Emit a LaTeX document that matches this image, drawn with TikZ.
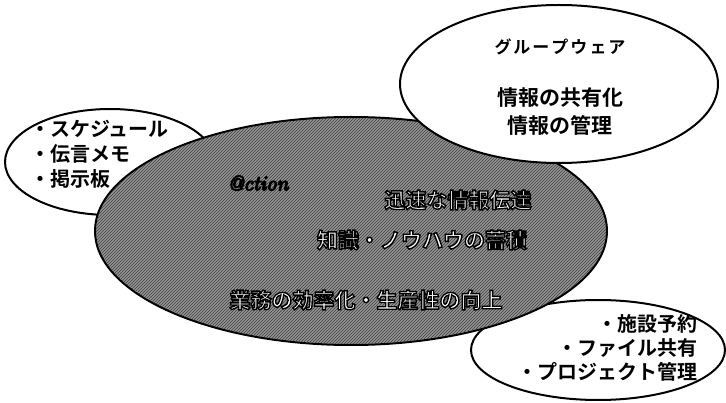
\documentclass[tikz,border=0pt]{standalone}
\usepackage{fontspec}
\newfontfamily\jp{Noto Sans CJK JP}[BoldFont={Noto Sans CJK JP Bold}]
\usetikzlibrary{patterns}
\tikzset{
  bubble/.style={draw=black, line width=2pt, fill=white},
  bigell/.style={draw=black, line width=2pt, fill=black!42},
  dark/.style={font=\jp\bfseries\fontsize{21}{21}\selectfont, inner sep=0pt},
  list/.style={font=\jp\bfseries\fontsize{20}{25}\selectfont, inner sep=0pt, align=left},
  listr/.style={font=\jp\bfseries\fontsize{20}{24}\selectfont, inner sep=0pt, align=right},
  onwhite/.style={font=\jp\bfseries\fontsize{21}{21}\selectfont, inner sep=0pt, text=white},
}
\newcommand\wtext[1]{\special{pdf:code q 2 Tr 1.4 w 0 G}#1\special{pdf:code Q}}
\begin{document}
\begin{tikzpicture}[x=1pt,y=-1pt]
\useasboundingbox (0,0) rectangle (726,403);
% left bubble
\draw[bubble] (110,162) ellipse [x radius=105, y radius=53];
% bottom right bubble
\draw[bubble] (598,350) ellipse [x radius=127, y radius=50];
% big gray ellipse
\draw[bigell] (351,231) ellipse [x radius=256, y radius=114];
\fill[pattern=north east lines, pattern color=black!75] (351,231) ellipse [x radius=255, y radius=113];
% top right bubble
\draw[bubble] (559,84) ellipse [x radius=159, y radius=79];

% texts
\node[font=\jp\bfseries\fontsize{17}{17}\selectfont, inner sep=0pt] (gw) at (560,47) {グ\hspace{2pt}ル\hspace{2pt}ー\hspace{2pt}プ\hspace{2pt}ウ\hspace{2pt}ェ\hspace{2pt}ア};
\node[dark] (k1) at (560,98) {情報の共有化};
\node[dark] (k2) at (560,125) {情報の管理};

\node[list, anchor=north west] (lst) at (30,120) {・スケジュール\\・伝言メモ\\・掲示板};
\node[listr, anchor=north east] (rst) at (698,314) {・施設予約\\・ファイル共有\\・プロジェクト管理};

\node[inner sep=0pt, text=white, font=\itshape\fontsize{21}{21}\selectfont] (act) at (258,183) {\wtext{@ction}};
\node[onwhite] (t1) at (458,200) {\wtext{迅速な情報伝達}};
\node[onwhite] (t2) at (422,240) {\wtext{知識・ノウハウの蓄積}};
\node[onwhite] (t3) at (366,300) {\wtext{業務の効率化・生産性の向上}};
\end{tikzpicture}
\end{document}
